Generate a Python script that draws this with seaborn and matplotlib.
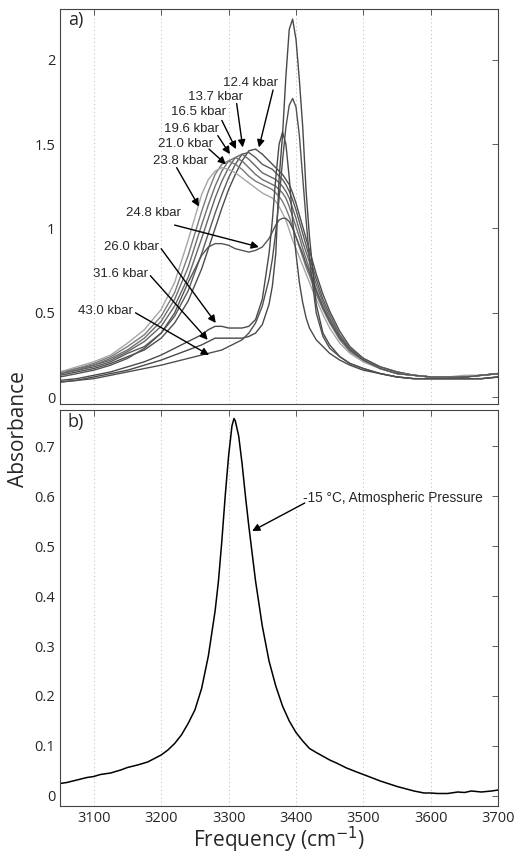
import numpy as np
import pandas as pd
import matplotlib
matplotlib.use('Agg')
import matplotlib.pyplot as plt
import seaborn as sns

# frequency grid for top panel (cm-1)
freq = [3050, 3075, 3100, 3125, 3150, 3175, 3200, 3220, 3240, 3260, 3270, 3280, 3290, 3300,
        3310, 3320, 3330, 3340, 3350, 3360, 3365, 3370, 3375, 3380, 3385, 3390, 3395, 3400,
        3405, 3410, 3415, 3420, 3430, 3440, 3450, 3465, 3480, 3500, 3525, 3550, 3575, 3600,
        3625, 3650, 3675, 3700]

a_124 = [0.13, 0.15, 0.17, 0.20, 0.24, 0.28, 0.35, 0.44, 0.57, 0.76, 0.88, 1.00, 1.12, 1.23,
         1.32, 1.40, 1.46, 1.47, 1.44, 1.40, 1.38, 1.36, 1.34, 1.32, 1.29, 1.26, 1.21, 1.15,
         1.08, 1.01, 0.94, 0.87, 0.73, 0.61, 0.51, 0.39, 0.30, 0.23, 0.18, 0.15, 0.13, 0.12,
         0.12, 0.12, 0.13, 0.14]
a_137 = [0.14, 0.16, 0.18, 0.21, 0.26, 0.30, 0.38, 0.48, 0.63, 0.85, 0.97, 1.09, 1.20, 1.30,
         1.38, 1.44, 1.45, 1.42, 1.38, 1.36, 1.35, 1.33, 1.31, 1.29, 1.26, 1.22, 1.17, 1.11,
         1.04, 0.97, 0.90, 0.83, 0.70, 0.58, 0.49, 0.37, 0.29, 0.23, 0.18, 0.15, 0.13, 0.12,
         0.12, 0.12, 0.13, 0.14]
a_165 = [0.14, 0.16, 0.19, 0.22, 0.27, 0.33, 0.42, 0.54, 0.71, 0.94, 1.06, 1.18, 1.28, 1.36,
         1.42, 1.44, 1.41, 1.37, 1.33, 1.31, 1.30, 1.29, 1.27, 1.25, 1.22, 1.18, 1.12, 1.06,
         0.99, 0.92, 0.86, 0.80, 0.67, 0.56, 0.47, 0.36, 0.29, 0.22, 0.17, 0.14, 0.13, 0.12,
         0.12, 0.12, 0.13, 0.14]
a_196 = [0.14, 0.17, 0.19, 0.23, 0.28, 0.35, 0.45, 0.58, 0.77, 1.02, 1.14, 1.25, 1.34, 1.40,
         1.42, 1.40, 1.36, 1.32, 1.29, 1.27, 1.26, 1.25, 1.23, 1.21, 1.18, 1.13, 1.07, 1.01,
         0.95, 0.88, 0.82, 0.76, 0.64, 0.54, 0.46, 0.35, 0.28, 0.22, 0.17, 0.14, 0.13, 0.12,
         0.12, 0.12, 0.13, 0.14]
a_210 = [0.15, 0.17, 0.20, 0.24, 0.30, 0.37, 0.48, 0.62, 0.84, 1.10, 1.22, 1.32, 1.38, 1.40,
         1.38, 1.35, 1.31, 1.28, 1.26, 1.24, 1.23, 1.21, 1.19, 1.16, 1.12, 1.07, 1.01, 0.95,
         0.89, 0.83, 0.77, 0.72, 0.61, 0.52, 0.44, 0.34, 0.27, 0.21, 0.17, 0.14, 0.13, 0.12,
         0.12, 0.12, 0.13, 0.14]
a_238 = [0.15, 0.18, 0.21, 0.25, 0.32, 0.40, 0.52, 0.68, 0.93, 1.20, 1.29, 1.34, 1.36, 1.35,
         1.33, 1.30, 1.27, 1.24, 1.21, 1.19, 1.18, 1.16, 1.13, 1.09, 1.05, 0.99, 0.93, 0.88,
         0.83, 0.78, 0.73, 0.68, 0.58, 0.49, 0.41, 0.32, 0.26, 0.21, 0.17, 0.14, 0.13, 0.12,
         0.12, 0.13, 0.13, 0.14]
a_248 = [0.12, 0.14, 0.16, 0.19, 0.23, 0.29, 0.38, 0.50, 0.68, 0.84, 0.89, 0.91, 0.91, 0.90,
         0.88, 0.87, 0.86, 0.87, 0.89, 0.94, 0.98, 1.02, 1.05, 1.06, 1.06, 1.04, 1.00, 0.95,
         0.90, 0.85, 0.79, 0.74, 0.63, 0.53, 0.45, 0.35, 0.28, 0.22, 0.17, 0.14, 0.13, 0.12,
         0.12, 0.12, 0.13, 0.14]
a_260 = [0.10, 0.11, 0.13, 0.15, 0.18, 0.21, 0.25, 0.29, 0.33, 0.37, 0.40, 0.42, 0.42, 0.41,
         0.41, 0.41, 0.42, 0.46, 0.58, 0.85, 1.05, 1.30, 1.50, 1.57, 1.50, 1.30, 1.05, 0.85,
         0.68, 0.56, 0.47, 0.41, 0.34, 0.30, 0.26, 0.22, 0.19, 0.16, 0.14, 0.12, 0.11, 0.11,
         0.11, 0.11, 0.11, 0.12]
a_316 = [0.09, 0.10, 0.12, 0.14, 0.16, 0.19, 0.22, 0.25, 0.28, 0.31, 0.33, 0.35, 0.35, 0.35,
         0.35, 0.35, 0.36, 0.38, 0.43, 0.55, 0.66, 0.85, 1.30, 1.55, 1.90, 2.18, 2.24, 2.12,
         1.88, 1.60, 1.22, 0.95, 0.55, 0.38, 0.31, 0.24, 0.20, 0.17, 0.14, 0.12, 0.11, 0.11,
         0.11, 0.11, 0.11, 0.12]
a_430 = [0.09, 0.10, 0.11, 0.13, 0.15, 0.17, 0.19, 0.21, 0.23, 0.25, 0.26, 0.27, 0.28, 0.30,
         0.32, 0.34, 0.38, 0.44, 0.54, 0.70, 0.82, 0.98, 1.18, 1.40, 1.60, 1.73, 1.77, 1.72,
         1.55, 1.30, 1.05, 0.82, 0.50, 0.36, 0.29, 0.24, 0.20, 0.17, 0.14, 0.12, 0.11, 0.11,
         0.11, 0.11, 0.11, 0.12]

pressures = ['12.4 kbar', '13.7 kbar', '16.5 kbar', '19.6 kbar', '21.0 kbar', '23.8 kbar',
             '24.8 kbar', '26.0 kbar', '31.6 kbar', '43.0 kbar']
spectra = [a_124, a_137, a_165, a_196, a_210, a_238, a_248, a_260, a_316, a_430]
grays = ['#4d4d4d', '#5a5a5a', '#666666', '#6e6e6e', '#7a7a7a', '#a6a6a6',
         '#555555', '#4a4a4a', '#484848', '#505050']

# bottom panel: -15 C, atmospheric pressure
freq_b = [3050, 3060, 3075, 3090, 3100, 3110, 3125, 3140, 3150, 3165, 3180, 3200, 3210, 3220,
          3230, 3240, 3250, 3260, 3270, 3280, 3285, 3290, 3295, 3300, 3305, 3308, 3310, 3315,
          3320, 3325, 3330, 3340, 3350, 3360, 3370, 3380, 3390, 3400, 3410, 3420, 3430, 3450,
          3460, 3475, 3490, 3500, 3525, 3550, 3575, 3590, 3600, 3610, 3625, 3640, 3650, 3660,
          3675, 3690, 3700]
abs_b = [0.025, 0.027, 0.032, 0.037, 0.039, 0.043, 0.046, 0.052, 0.057, 0.062, 0.068, 0.082,
         0.092, 0.105, 0.122, 0.145, 0.172, 0.215, 0.28, 0.37, 0.43, 0.51, 0.60, 0.68, 0.74,
         0.755, 0.75, 0.72, 0.665, 0.60, 0.54, 0.43, 0.34, 0.27, 0.22, 0.18, 0.15, 0.127, 0.11,
         0.095, 0.087, 0.072, 0.066, 0.056, 0.048, 0.043, 0.030, 0.019, 0.010, 0.006, 0.006,
         0.005, 0.005, 0.008, 0.007, 0.010, 0.008, 0.010, 0.012]

# label text position (left, centre) / arrow start / arrow tip, in data units
lab_pos = [(3291, 1.86), (3240, 1.78), (3214, 1.69), (3204, 1.59), (3195, 1.50), (3188, 1.40),
           (3148, 1.09), (3115, 0.89), (3099, 0.73), (3077, 0.51)]
arr_from = [(3366, 1.82), (3312, 1.74), (3290, 1.64), (3284, 1.55), (3271, 1.47), (3223, 1.36),
            (3220, 1.02), (3200, 0.88), (3184, 0.72), (3162, 0.50)]
arr_to = [(3345, 1.48), (3321, 1.48), (3311, 1.47), (3302, 1.44), (3296, 1.38), (3256, 1.13),
          (3345, 0.89), (3281, 0.44), (3269, 0.34), (3271, 0.25)]

rows = []
for p, s in zip(pressures, spectra):
    for f, a in zip(freq, s):
        rows.append((p, f, a))
df = pd.DataFrame(rows, columns=['pressure', 'freq', 'absorbance'])
df_b = pd.DataFrame({'freq': freq_b, 'absorbance': abs_b})

sns.set_style('white')
plt.rcParams['font.family'] = ['Open Sans', 'DejaVu Sans']
plt.rcParams['xtick.direction'] = 'in'
plt.rcParams['ytick.direction'] = 'in'
plt.rcParams['xtick.top'] = True
plt.rcParams['ytick.right'] = True

fig = plt.figure(figsize=(5.22, 8.59), dpi=100)
ax1 = fig.add_axes([0.115, 0.5297, 0.8395, 0.4598])
ax2 = fig.add_axes([0.115, 0.0617, 0.8395, 0.4610])

sns.lineplot(data=df, x='freq', y='absorbance', hue='pressure', palette=grays,
             legend=False, ax=ax1, linewidth=1.0, sort=False, estimator=None)
sns.lineplot(data=df_b, x='freq', y='absorbance', color='black', ax=ax2,
             linewidth=1.1, sort=False, estimator=None)

for ax in (ax1, ax2):
    ax.set_xlim(3050, 3700)
    ax.set_xticks([3100, 3200, 3300, 3400, 3500, 3600, 3700])
    for xv in [3100, 3200, 3300, 3400, 3500, 3600]:
        ax.axvline(xv, color='#b8b8b8', linestyle=(0, (1, 3)), linewidth=0.7, zorder=0)
    for sp in ax.spines.values():
        sp.set_color('#444444')
        sp.set_linewidth(0.8)
    ax.tick_params(length=4, width=0.6, color='#444444', labelsize=10.5)
    ax.set_xlabel('')
    ax.set_ylabel('')

ax1.set_ylim(-0.04, 2.3)
ax1.set_yticks([0, 0.5, 1, 1.5, 2])
ax1.set_yticklabels(['0', '0.5', '1', '1.5', '2'])
ax1.set_xticklabels([])

ax2.set_ylim(-0.02, 0.772)
ax2.set_yticks([0, 0.1, 0.2, 0.3, 0.4, 0.5, 0.6, 0.7])
ax2.set_yticklabels(['0', '0.1', '0.2', '0.3', '0.4', '0.5', '0.6', '0.7'])

arrow = dict(arrowstyle='-|>', color='black', lw=1.0, mutation_scale=11,
             shrinkA=0, shrinkB=0)
for p, tp, af, at in zip(pressures, lab_pos, arr_from, arr_to):
    ax1.text(tp[0], tp[1], p, fontsize=9.5, ha='left', va='center',
             family=['Liberation Sans', 'DejaVu Sans'])
    ax1.annotate('', xy=at, xytext=af, arrowprops=arrow)

ax2.text(3411, 0.596, '-15 \u00b0C, Atmospheric Pressure', fontsize=9.8, ha='left',
         va='center', family=['Liberation Sans', 'DejaVu Sans'])
ax2.annotate('', xy=(3335, 0.53), xytext=(3413, 0.586), arrowprops=arrow)

ax1.text(0.018, 0.972, 'a)', transform=ax1.transAxes, fontsize=13, va='center')
ax2.text(0.018, 0.97, 'b)', transform=ax2.transAxes, fontsize=13, va='center')

fig.text(0.035, 0.5, 'Absorbance', rotation=90, ha='center', va='center', fontsize=15)
fig.text(0.535, 0.022, 'Frequency (cm$^{-1}$)', ha='center', va='center', fontsize=15)

fig.savefig('out.png', dpi=100)
